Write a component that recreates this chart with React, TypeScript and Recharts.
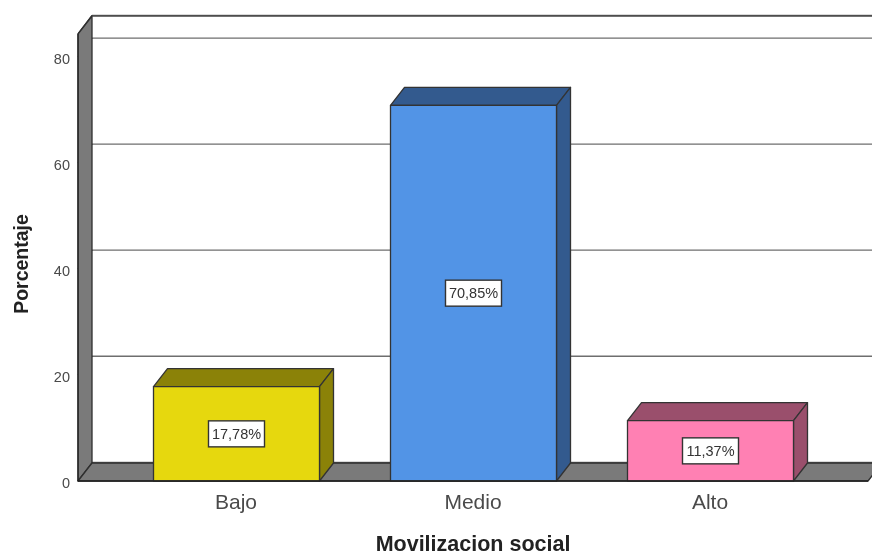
import { Bar, BarChart, CartesianGrid, LabelList, ReferenceArea, XAxis, YAxis } from 'recharts';

const categories = ['Bajo', 'Medio', 'Alto'];
const percentages = [17.78, 70.85, 11.37];
const valueLabels = ['17,78%', '70,85%', '11,37%'];
const frontColors = ['#e6d80e', '#5294e6', '#ff80b3'];
const topColors = ['#8b8208', '#335a8e', '#9a4f6c'];
const yTicks = [0, 20, 40, 60, 80];

const data = categories.map((name, i) => ({
  name,
  value: percentages[i],
  label: valueLabels[i],
  front: frontColors[i],
  top: topColors[i],
}));

const DX = 14;
const DY = 18;
const AXIS_PAD = 39.5;
const WALL = '#7a7a7a';
const EDGE = '#2e2e2e';
const GRID = '#6e6e6e';

function Box3D(props: any) {
  const { x, y, width: w, height: h, payload } = props;
  const edge = '#333';
  return (
    <g stroke={edge} strokeWidth={1.3} strokeLinejoin="round">
      <polygon
        fill={payload.top}
        points={`${x},${y} ${x + DX},${y - DY} ${x + w + DX},${y - DY} ${x + w},${y}`}
      />
      <polygon
        fill={payload.top}
        points={`${x + w},${y} ${x + w + DX},${y - DY} ${x + w + DX},${y + h - DY} ${x + w},${y + h}`}
      />
      <rect x={x} y={y} width={w} height={h} fill={payload.front} />
    </g>
  );
}

// the reference area only spans the padded band range, so widen it back to the plot
function Walls(props: any) {
  const x = props.x - AXIS_PAD;
  const w = props.width + AXIS_PAD * 2;
  const y = props.y;
  const b = y + props.height;
  return (
    <g stroke={EDGE} strokeWidth={1.3} strokeLinejoin="round">
      <polygon fill={WALL} points={`${x},${y} ${x + DX},${y - DY} ${x + DX},${b - DY} ${x},${b}`} />
      <polygon
        fill={WALL}
        points={`${x},${b} ${x + DX},${b - DY} ${x + w + DX},${b - DY} ${x + w},${b}`}
      />
      <line x1={x + DX} y1={y - DY} x2={x + w + DX} y2={y - DY} stroke="#444" strokeWidth={1.5} />
    </g>
  );
}

function GridLine(props: any) {
  const { x1, y1, x2, y2 } = props;
  return (
    <g stroke={GRID} strokeWidth={1.3}>
      <line x1={x1 + DX} y1={y1 - DY - 0.7} x2={x2 + DX} y2={y2 - DY - 0.7} />
      <line x1={x1} y1={y1} x2={x1 + DX} y2={y1 - DY - 0.7} stroke={EDGE} />
    </g>
  );
}

function ValueBox(props: any) {
  const { x, y, width, height, index } = props;
  const cx = x + width / 2;
  const cy = y + height / 2;
  return (
    <g>
      <rect x={cx - 28} y={cy - 13} width={56} height={26} fill="#fff" stroke="#333" strokeWidth={1.4} />
      <text
        x={cx}
        y={cy + 1.5}
        textAnchor="middle"
        dominantBaseline="middle"
        fontSize={14.5}
        fontFamily="Liberation Sans"
        fill="#333"
      >
        {valueLabels[index]}
      </text>
    </g>
  );
}

function YTitle() {
  return (
    <text
      transform="translate(23 264) rotate(-90)"
      textAnchor="middle"
      dominantBaseline="middle"
      fontSize={19.5}
      fontWeight={700}
      fill="#222"
    >
      Porcentaje
    </text>
  );
}

function XTitle() {
  return (
    <text x={473} y={550.5} textAnchor="middle" fontSize={21.5} fontWeight={700} fill="#222">
      Movilizacion social
    </text>
  );
}

export default function App() {
  return (
    <div
      style={{
        position: 'absolute',
        left: 0,
        top: 0,
        width: 872,
        height: 555,
        overflow: 'hidden',
        filter: 'blur(0.4px)',
      }}
    >
      <BarChart
        width={872}
        height={555}
        data={data}
        barSize={166}
        margin={{ top: 34, right: 4, left: 0, bottom: 0 }}
        style={{ fontFamily: 'Liberation Sans' }}
      >
        <ReferenceArea shape={Walls} ifOverflow="visible" />
        <CartesianGrid vertical={false} horizontal={GridLine} />
        <XAxis
          dataKey="name"
          height={74}
          interval={0}
          padding={{ left: AXIS_PAD, right: AXIS_PAD }}
          tickLine={false}
          axisLine={{ stroke: '#222', strokeWidth: 1.5 }}
          tickMargin={7}
          tick={{ fontSize: 21, fill: '#4a4a4a' }}
          label={{ content: XTitle }}
        />
        <YAxis
          width={78}
          domain={[0, 84.3]}
          ticks={yTicks}
          tickLine={false}
          axisLine={{ stroke: '#222', strokeWidth: 1.2 }}
          tickMargin={2}
          tick={{ fontSize: 14.5, fill: '#4a4a4a', dy: 2 }}
          label={{ content: YTitle }}
        />
        <Bar dataKey="value" shape={Box3D} isAnimationActive={false}>
          <LabelList dataKey="label" content={ValueBox} />
        </Bar>
      </BarChart>
    </div>
  );
}
